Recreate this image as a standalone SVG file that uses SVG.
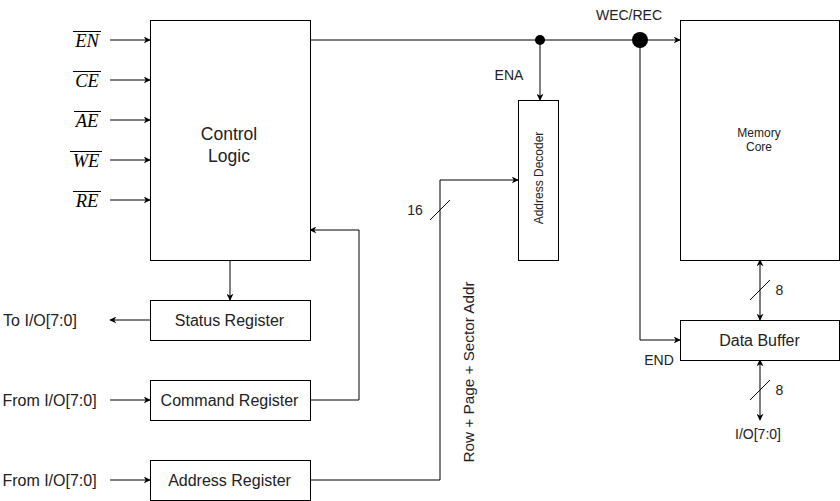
<svg xmlns="http://www.w3.org/2000/svg" width="840" height="501" viewBox="0 0 840 501">
<style>
.box{fill:#fff;stroke:#000;stroke-width:1}
.ln{fill:none;stroke:#000;stroke-width:1}
.t{font-family:"Liberation Sans",Arial,sans-serif;fill:#222;text-anchor:middle;dominant-baseline:central}
.b{font-family:"Liberation Sans",Arial,sans-serif;fill:#222;text-anchor:middle}
.m{font-family:"Liberation Serif","Times New Roman",serif;font-style:italic;font-size:18.5px;fill:#000;text-anchor:middle}
.ov{stroke:#000;stroke-width:1}
</style>
<defs>
<marker id="ar" viewBox="0 0 10 10" refX="9" refY="5" markerWidth="7" markerHeight="7" markerUnits="userSpaceOnUse" orient="auto-start-reverse">
<path d="M0,0 L10,5 L0,10 L3,5 Z" fill="#000"/>
</marker>
</defs>
<g id="connectors">
<line class="ln" x1="110" y1="40" x2="150" y2="40" marker-end="url(#ar)"/>
<line class="ln" x1="110" y1="80" x2="150" y2="80" marker-end="url(#ar)"/>
<line class="ln" x1="110" y1="120" x2="150" y2="120" marker-end="url(#ar)"/>
<line class="ln" x1="110" y1="160" x2="150" y2="160" marker-end="url(#ar)"/>
<line class="ln" x1="110" y1="200" x2="150" y2="200" marker-end="url(#ar)"/>
<line class="ln" x1="230" y1="260" x2="230" y2="300" marker-end="url(#ar)"/>
<line class="ln" x1="150" y1="320" x2="110" y2="320" marker-end="url(#ar)"/>
<line class="ln" x1="110" y1="400" x2="150" y2="400" marker-end="url(#ar)"/>
<line class="ln" x1="110" y1="480" x2="150" y2="480" marker-end="url(#ar)"/>
<polyline class="ln" points="310,400 359,400 359,230 310,230" marker-end="url(#ar)"/>
<polyline class="ln" points="310,480 440,480 440,180 518,180" marker-end="url(#ar)"/>
<line class="ln" x1="430" y1="220" x2="450" y2="200"/>
<line class="ln" x1="310" y1="40" x2="680" y2="40" marker-end="url(#ar)"/>
<line class="ln" x1="540" y1="40" x2="540" y2="100" marker-end="url(#ar)"/>
<polyline class="ln" points="640,40 640,340 680,340" marker-end="url(#ar)"/>
<circle cx="540" cy="40" r="5" fill="#000"/>
<circle cx="640" cy="40" r="8" fill="#000"/>
<line class="ln" x1="760" y1="260" x2="760" y2="320" marker-start="url(#ar)" marker-end="url(#ar)"/>
<line class="ln" x1="750" y1="300" x2="770" y2="280"/>
<line class="ln" x1="760" y1="360" x2="760" y2="420" marker-start="url(#ar)" marker-end="url(#ar)"/>
<line class="ln" x1="750" y1="400" x2="770" y2="380"/>
</g>
<g id="control-logic">
<rect class="box" x="150.5" y="20.5" width="160" height="240"/>
<text class="b" x="229" y="140" font-size="17.5">Control</text>
<text class="b" x="229" y="162" font-size="17.5">Logic</text>
</g>
<g id="status-register">
<rect class="box" x="150.5" y="300.5" width="160" height="40"/>
<text class="t" x="229.5" y="320" font-size="16">Status Register</text>
</g>
<g id="command-register">
<rect class="box" x="150.5" y="380.5" width="160" height="40"/>
<text class="t" x="229.5" y="400" font-size="16">Command Register</text>
</g>
<g id="address-register">
<rect class="box" x="150.5" y="460.5" width="160" height="40"/>
<text class="t" x="229.5" y="480" font-size="16">Address Register</text>
</g>
<g id="address-decoder">
<rect class="box" x="518.5" y="100.5" width="40" height="160"/>
<text class="t" x="539" y="178" font-size="12" transform="rotate(-90 539 178)">Address Decoder</text>
</g>
<g id="memory-core">
<rect class="box" x="680.5" y="20.5" width="159" height="240"/>
<text class="t" x="759" y="133" font-size="12">Memory</text>
<text class="t" x="759" y="147" font-size="12">Core</text>
</g>
<g id="data-buffer">
<rect class="box" x="680.5" y="320.5" width="159" height="40"/>
<text class="t" x="759.5" y="340" font-size="16">Data Buffer</text>
</g>
<g id="labels">
<text class="m" x="87" y="47">EN</text><line class="ov" x1="73" y1="31.5" x2="101" y2="31.5"/>
<text class="m" x="87" y="87">CE</text><line class="ov" x1="73" y1="71.5" x2="101" y2="71.5"/>
<text class="m" x="87" y="127">AE</text><line class="ov" x1="74" y1="111.5" x2="101" y2="111.5"/>
<text class="m" x="86" y="167">WE</text><line class="ov" x1="70" y1="151.5" x2="102" y2="151.5"/>
<text class="m" x="87" y="207">RE</text><line class="ov" x1="73" y1="191.5" x2="101" y2="191.5"/>
<text class="t" x="40" y="320" font-size="16">To I/O[7:0]</text>
<text class="t" x="49.5" y="400" font-size="16">From I/O[7:0]</text>
<text class="t" x="49.5" y="480" font-size="16">From I/O[7:0]</text>
<text class="t" x="415" y="210" font-size="14">16</text>
<text class="t" x="468" y="372" font-size="15.3" transform="rotate(-90 468 372)">Row + Page + Sector Addr</text>
<text class="t" x="509" y="75" font-size="14">ENA</text>
<text class="t" x="629" y="15" font-size="14">WEC/REC</text>
<text class="t" x="659" y="360" font-size="14">END</text>
<text class="t" x="779.5" y="290" font-size="14">8</text>
<text class="t" x="779.5" y="390" font-size="14">8</text>
<text class="t" x="758" y="434" font-size="14">I/O[7:0]</text>
</g>
</svg>
